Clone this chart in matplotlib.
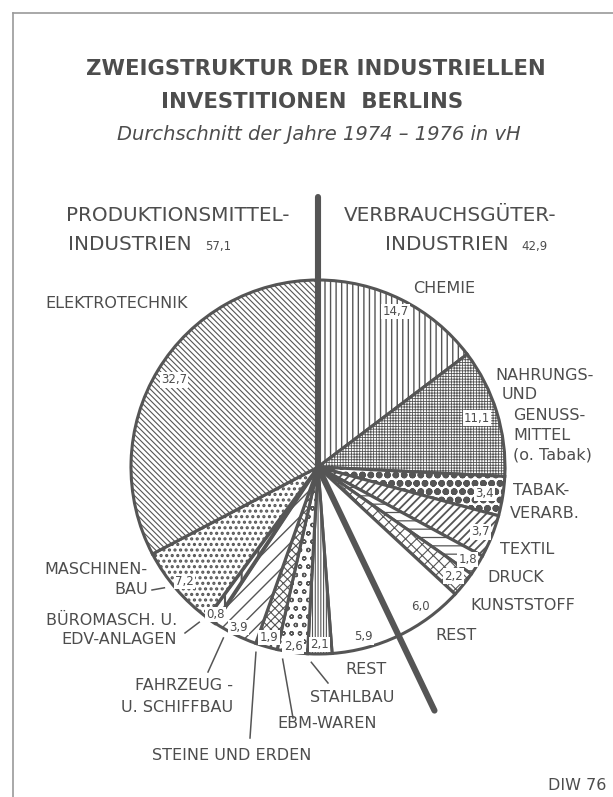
import numpy as np
import matplotlib
matplotlib.use('Agg')
import matplotlib.pyplot as plt

# ---------------- data ----------------
right_labels = ['CHEMIE', 'NAHRUNGS- UND GENUSSMITTEL (o. Tabak)', 'TABAK-VERARB.',
                'TEXTIL', 'DRUCK', 'KUNSTSTOFF', 'REST']
right_values = [14.7, 11.1, 3.4, 3.7, 1.8, 2.2, 6.0]
left_labels = ['REST', 'STAHLBAU', 'EBM-WAREN', 'STEINE UND ERDEN',
               'FAHRZEUG- U. SCHIFFBAU', 'BÜROMASCH. U. EDV-ANLAGEN',
               'MASCHINENBAU', 'ELEKTROTECHNIK']
left_values = [5.9, 2.1, 2.6, 1.9, 3.9, 0.8, 7.2, 32.7]
group_names = ['PRODUKTIONSMITTEL-', 'VERBRAUCHSGÜTER-']
group_totals = [57.1, 42.9]

values = right_values + left_values

# ---------------- style ----------------
W, H = 613, 797
LINE = '#555555'
TXT = '#4d4d4d'
FONT = 'DejaVu Sans'
plt.rcParams['font.family'] = [FONT]

hatches = ['|||', '++++++', 'oo', '////', '--', 'xxx', '',
           '', '||||||', 'oo', 'xxxx', '//', '|', '...', '\\' * 6]
hatch_lw = [1.0, 0.6, 2.4, 1.3, 0.9, 0.8, 1.0,
            1.0, 0.8, 0.9, 0.8, 1.0, 1.5, 1.5, 0.8]
edge_lw = [2.2] * 15
edge_lw[12] = 2.8
label_rf = [0.93, 0.89, 0.90, 0.935, 0.94, 0.93, 0.925,
            0.94, 0.95, 0.97, 0.95, 0.96, 0.96, 0.94, 0.90]

fig = plt.figure(figsize=(W / 100, H / 100), dpi=100)
ax = fig.add_axes([0, 0, 1, 1])

cx, cy, R = 318, H - 467, 187
wedges, _ = ax.pie(values, startangle=90, counterclock=False,
                   center=(cx, cy), radius=R,
                   wedgeprops=dict(edgecolor=LINE, linewidth=2.2,
                                   facecolor='white'))
for i, w in enumerate(wedges):
    w.set_hatch(hatches[i])
    w.set_linewidth(edge_lw[i])
    if hasattr(w, 'set_hatch_linewidth'):
        w.set_hatch_linewidth(hatch_lw[i])

ax.set_xlim(0, W)
ax.set_ylim(0, H)
ax.set_aspect('equal')
ax.axis('off')


def fmt(v):
    return f'{v:.1f}'.replace('.', ',')


# value labels inside wedges
for i, w in enumerate(wedges):
    mid = np.deg2rad((w.theta1 + w.theta2) / 2)
    r = R * label_rf[i]
    ax.text(cx + r * np.cos(mid), cy + r * np.sin(mid), fmt(values[i]),
            ha='center', va='center', fontsize=8.5, color=TXT, zorder=6,
            bbox=dict(boxstyle='square,pad=0.1', fc='white', ec='none'))

# thick group dividers
L = 270
a_top = np.deg2rad(90)
a_split = np.deg2rad(90 - 360 * sum(right_values) / 100)
for a in (a_top, a_split):
    ax.plot([cx, cx + L * np.cos(a)], [cy, cy + L * np.sin(a)],
            color=LINE, lw=4.4, solid_capstyle='round', zorder=7)

# frame
ax.plot([13, W], [H - 13, H - 13], color='#9a9a9a', lw=1.2)
ax.plot([13, 13], [H - 13, 0], color='#9a9a9a', lw=1.2)


def txt(x, yp, s, **kw):
    kw.setdefault('color', TXT)
    kw.setdefault('va', 'center')
    kw.setdefault('fontsize', 11.5)
    ax.text(x, H - yp, s, **kw)


# title
txt(316, 69, 'ZWEIGSTRUKTUR DER INDUSTRIELLEN', ha='center',
    fontsize=15.3, fontweight='bold')
txt(312, 102, 'INVESTITIONEN  BERLINS', ha='center',
    fontsize=15.3, fontweight='bold')
txt(319, 134, 'Durchschnitt der Jahre 1974 – 1976 in vH', ha='center',
    fontsize=14, style='italic')

# group headers
txt(66, 215, group_names[0], ha='left', fontsize=14.4)
txt(68, 244, 'INDUSTRIEN', ha='left', fontsize=14.4)
txt(205, 246, fmt(group_totals[0]), ha='left', fontsize=8.5)
txt(344, 215, group_names[1], ha='left', fontsize=14.4)
txt(385, 244, 'INDUSTRIEN', ha='left', fontsize=14.4)
txt(521, 246, fmt(group_totals[1]), ha='left', fontsize=8.5)

# category labels, right group
txt(444, 288, 'CHEMIE', ha='center')
txt(495, 375, 'NAHRUNGS-', ha='left')
txt(502, 394, 'UND', ha='left')
txt(513, 415, 'GENUSS-', ha='left')
txt(513, 435, 'MITTEL', ha='left')
txt(513, 455, '(o. Tabak)', ha='left')
txt(513, 490, 'TABAK-', ha='left')
txt(510, 513, 'VERARB.', ha='left')
txt(500, 550, 'TEXTIL', ha='left')
txt(487, 577, 'DRUCK', ha='left')
txt(470, 606, 'KUNSTSTOFF', ha='left')
txt(435, 635, 'REST', ha='left')

# category labels, left group
txt(45, 303, 'ELEKTROTECHNIK', ha='left')
txt(148, 570, 'MASCHINEN-', ha='right')
txt(148, 590, 'BAU', ha='right')
txt(177, 620, 'BÜROMASCH. U.', ha='right')
txt(177, 639, 'EDV-ANLAGEN', ha='right')
txt(233, 685, 'FAHRZEUG -', ha='right')
txt(233, 707, 'U. SCHIFFBAU', ha='right')
txt(152, 755, 'STEINE UND ERDEN', ha='left')
txt(277, 723, 'EBM-WAREN', ha='left')
txt(310, 698, 'STAHLBAU', ha='left')
txt(345, 670, 'REST', ha='left')
txt(548, 785, 'DIW 76', ha='left')

# leader lines: (wedge index, end point in pixels)
leaders = [(8, (328, 683)), (9, (293, 718)), (10, (250, 738)),
           (11, (208, 672)), (12, (185, 633)), (13, (152, 590))]
for i, (ex, ey) in leaders:
    w = wedges[i]
    a = np.deg2rad((w.theta1 + w.theta2) / 2 - 2.5)
    r0 = R * 1.045
    ax.plot([cx + r0 * np.cos(a), ex], [cy + r0 * np.sin(a), H - ey],
            color=LINE, lw=1.1)

fig.savefig('out.png', dpi=100, facecolor='white')
